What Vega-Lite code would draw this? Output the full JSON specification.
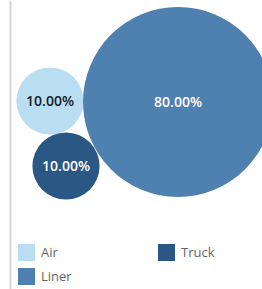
{
  "$schema": "https://vega.github.io/schema/vega-lite/v6.json",
  "width": 252,
  "height": 289,
  "padding": {"left": 10, "top": 0, "right": 0, "bottom": 0},
  "autosize": {"type": "none"},
  "background": "white",
  "config": {"view": {"stroke": null}},
  "data": {"values": [
    {"mode": "Air", "share": 0.10, "cx": 50, "cy": 101},
    {"mode": "Truck", "share": 0.10, "cx": 66, "cy": 166},
    {"mode": "Liner", "share": 0.80, "cx": 178, "cy": 102}
  ]},
  "encoding": {
    "x": {"field": "cx", "type": "quantitative", "scale": {"domain": [10, 262], "nice": false, "zero": false}, "axis": null},
    "y": {"field": "cy", "type": "quantitative", "scale": {"domain": [289, 0], "nice": false, "zero": false},
      "axis": {"orient": "left", "domain": true, "domainColor": "#d4d4d4", "domainWidth": 2, "ticks": false, "labels": false, "grid": false, "title": null}}
  },
  "layer": [
    {
      "mark": {"type": "point", "shape": "circle", "filled": true, "opacity": 1},
      "encoding": {
        "size": {"field": "share", "type": "quantitative", "scale": {"domain": [0, 0.8], "range": [0, 36100], "zero": true}, "legend": null},
        "color": {"field": "mode", "type": "nominal",
          "scale": {"domain": ["Air", "Truck", "Liner"], "range": ["#b9ddf1", "#2a5783", "#4e81b0"]},
          "legend": {"orient": "none", "legendX": 8, "legendY": 244, "direction": "horizontal", "columns": 2, "title": null,
            "symbolType": "square", "symbolSize": 289, "symbolStrokeWidth": 0, "symbolOpacity": 1,
            "labelFont": "Open Sans", "labelFontSize": 13, "labelColor": "#666666", "labelOffset": 6,
            "rowPadding": 7, "columnPadding": 86, "padding": 0}}
      }
    },
    {
      "mark": {"type": "text", "font": "Open Sans", "fontSize": 14, "fontWeight": 600, "align": "center", "baseline": "middle", "dy": 1},
      "encoding": {
        "text": {"field": "share", "type": "quantitative", "format": ".2%"},
        "color": {"condition": {"test": "datum.mode === 'Air'", "value": "#1a1a1a"}, "value": "#ffffff"}
      }
    }
  ]
}
